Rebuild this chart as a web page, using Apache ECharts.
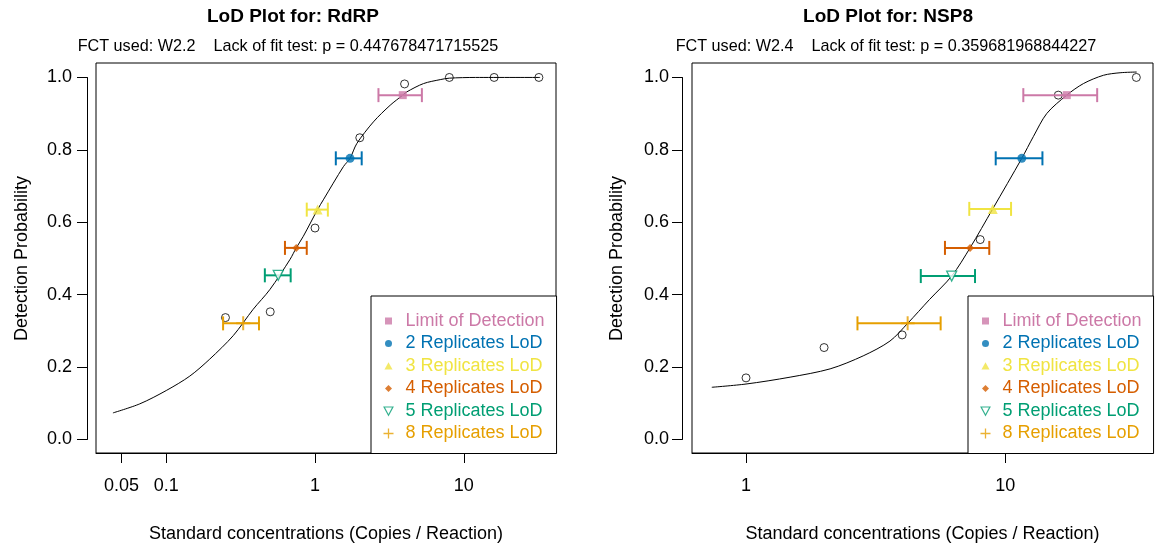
<!DOCTYPE html>
<html>
<head>
<meta charset="utf-8">
<script src="https://cdn.jsdelivr.net/npm/echarts@6/dist/echarts.min.js"></script>
<style>html,body{margin:0;padding:0;background:#fff;}#c{width:1166px;height:548px;}</style>
</head>
<body>
<div id="c"></div>
<script>
// ---------- data ----------
const lodNames = ['Limit of Detection','2 Replicates LoD','3 Replicates LoD','4 Replicates LoD','5 Replicates LoD','8 Replicates LoD'];
const xTicksLeft = [0.05, 0.1, 1, 10];
const xTicksRight = [1, 10];
const yTicks = [0, 0.2, 0.4, 0.6, 0.8, 1.0];

// RdRP
const rdrpConc = [0.25, 0.5, 1, 2, 4, 8, 16, 32];
const rdrpProb = [0.335, 0.351, 0.583, 0.833, 0.982, 1, 1, 1];
const rdrpCurveX = [0.0438, 0.0663, 0.100, 0.144, 0.196, 0.282, 0.384, 0.498, 0.679, 0.748, 0.834, 1.04, 1.137, 1.552, 1.72, 1.91, 2.47, 3.20, 3.89, 4.14, 5.36, 6.95, 8, 12, 32.6];
const rdrpCurveY = [0.071, 0.096, 0.133, 0.173, 0.220, 0.285, 0.358, 0.413, 0.496, 0.528, 0.560, 0.634, 0.661, 0.753, 0.776, 0.817, 0.877, 0.923, 0.951, 0.960, 0.983, 0.994, 0.998, 1.0, 1.0];
const rdrpLodX = [3.89, 1.72, 1.04, 0.748, 0.566, 0.329];
const rdrpLodY = [0.951, 0.776, 0.634, 0.528, 0.452, 0.319];
const rdrpLodLow = [2.67, 1.38, 0.88, 0.628, 0.46, 0.241];
const rdrpLodHigh = [5.23, 2.06, 1.22, 0.88, 0.686, 0.42];

// NSP8
const nsp8Conc = [1, 2, 4, 8, 16, 32];
const nsp8Prob = [0.168, 0.252, 0.287, 0.551, 0.951, 1.0];
const nsp8CurveX = [0.738, 1, 1.479, 2.11, 2.83, 3.59, 4.20, 5.1, 6.21, 7.31, 8.94, 11.57, 12.82, 14.44, 17.25, 20, 23.9, 27.7, 32.1];
const nsp8CurveY = [0.142, 0.151, 0.170, 0.193, 0.229, 0.27, 0.319, 0.385, 0.450, 0.528, 0.636, 0.776, 0.836, 0.900, 0.951, 0.983, 1.006, 1.013, 1.015];
const nsp8LodX = [17.25, 11.57, 8.94, 7.31, 6.21, 4.20];
const nsp8LodY = [0.951, 0.776, 0.636, 0.528, 0.450, 0.319];
const nsp8LodLow = [11.73, 9.18, 7.26, 5.85, 4.72, 2.69];
const nsp8LodHigh = [22.6, 13.9, 10.52, 8.67, 7.64, 5.63];

// ---------- styles ----------
const FONT = "'Liberation Sans', Arial, Helvetica, sans-serif";
const COLORS = ['#CC79A7', '#0072B2', '#F0E442', '#D55E00', '#009E73', '#E69F00'];
const DOWN_TRI = 'path://M0,0L10,0L5,9Z';
const PLUS = 'path://M0,5L10,5M5,0L5,10';
const SYMBOLS = ['rect', 'circle', 'triangle', 'diamond', DOWN_TRI, PLUS];
const SIZES = [8, 9, 10, 8, 10, 14];
// legend icons: shapes inside a 10x10 box (the leading moves fix the box)
const LEGEND_ICONS = [
  'path://M0,0M10,10M1.5,1.5L8.5,1.5L8.5,8.5L1.5,8.5Z',
  'path://M0,0M10,10M1.5,5a3.5,3.5 0 1,0 7,0a3.5,3.5 0 1,0 -7,0Z',
  'path://M0,0M10,10M5,1.2L9,8.4L1,8.4Z',
  'path://M0,0M10,10M5,1.5L8.5,5L5,8.5L1.5,5Z',
  'path://M0,0M10,10M0.6,1L9.4,1L5,9.2Z',
  'path://M0,5L10,5M5,0L5,10'
];
function markerStyle(i) {
  if (i === 4) return {color: '#fff', borderColor: COLORS[i], borderWidth: 1.3};
  if (i === 5) return {color: 'none', borderColor: COLORS[i], borderWidth: 2};
  return {color: COLORS[i]};
}
function legendStyle(i) {
  if (i === 4) return {color: '#fff', borderColor: COLORS[i], borderWidth: 1.2};
  if (i === 5) return {color: 'none', borderColor: COLORS[i], borderWidth: 1.3};
  return {color: COLORS[i], borderWidth: 0};
}

const chart = echarts.init(document.getElementById('c'), null, {renderer: 'canvas'});

function xAxisFor(grid, min, max, ticks) {
  return {
    type: 'log', logBase: 10, gridIndex: grid, min: min, max: max,
    axisLine: {show: true, onZero: false, lineStyle: {color: '#000', width: 1}},
    axisTick: {show: true, length: 10, inside: false, customValues: ticks, lineStyle: {color: '#000'}},
    axisLabel: {show: true, customValues: ticks, color: '#000', fontSize: 18, fontFamily: FONT, margin: 24,
      formatter: v => String(+Number(v).toPrecision(6))},
    minorTick: {show: false}, splitLine: {show: false},
    name: 'Standard concentrations (Copies / Reaction)', nameLocation: 'middle', nameGap: 72,
    nameTextStyle: {color: '#000', fontSize: 18, fontFamily: FONT}
  };
}
function yDecor(grid, margin) {
  return {
    type: 'value', gridIndex: grid, min: 0, max: 1, interval: 0.2,
    axisLine: {show: true, onZero: false, lineStyle: {color: '#000', width: 1}},
    axisTick: {show: true, length: 10, lineStyle: {color: '#000'}},
    axisLabel: {color: '#000', fontSize: 18, fontFamily: FONT, margin: margin, formatter: v => v.toFixed(1)},
    splitLine: {show: false},
    name: 'Detection Probability', nameLocation: 'middle', nameGap: 56, nameRotate: 90,
    nameTextStyle: {color: '#000', fontSize: 18, fontFamily: FONT}
  };
}

function plotSeries(g, conc, prob, cx, cy, lx, ly, llo, lhi) {
  const s = [];
  s.push({type: 'line', xAxisIndex: g, yAxisIndex: g, data: cx.map((x, i) => [x, cy[i]]),
    smooth: 0.3, showSymbol: false, symbol: 'none', lineStyle: {color: '#000', width: 1}, silent: true, z: 2});
  s.push({type: 'scatter', xAxisIndex: g, yAxisIndex: g, data: conc.map((x, i) => [x, prob[i]]),
    symbol: 'circle', symbolSize: 8, itemStyle: {color: 'rgba(0,0,0,0)', borderColor: '#000', borderWidth: 1}, z: 3});
  s.push({type: 'custom', xAxisIndex: g, yAxisIndex: g, z: 4,
    data: llo.map((lo, i) => [lo, lhi[i], ly[i]]),
    encode: {x: [0, 1], y: 2},
    renderItem: function (params, api) {
      const a = api.coord([api.value(0), api.value(2)]);
      const b = api.coord([api.value(1), api.value(2)]);
      const c = COLORS[params.dataIndex];
      const h = 7;
      const st = {stroke: c, lineWidth: 2};
      return {type: 'group', children: [
        {type: 'line', shape: {x1: a[0], y1: a[1], x2: b[0], y2: b[1]}, style: st},
        {type: 'line', shape: {x1: a[0], y1: a[1] - h, x2: a[0], y2: a[1] + h}, style: st},
        {type: 'line', shape: {x1: b[0], y1: b[1] - h, x2: b[0], y2: b[1] + h}, style: st}
      ]};
    }});
  lodNames.forEach((n, i) => {
    s.push({type: 'scatter', name: n, xAxisIndex: g, yAxisIndex: g, z: 5,
      data: [[lx[i], ly[i]]], symbol: SYMBOLS[i], symbolSize: SIZES[i], itemStyle: markerStyle(i)});
  });
  return s;
}

function legendFor(left) {
  return {
    orient: 'vertical', left: left, top: 296, padding: [15, 12, 10, 10], itemGap: 2.5,
    itemWidth: 24, itemHeight: 10, symbolKeepAspect: true,
    borderColor: '#000', borderWidth: 1, backgroundColor: '#fff',
    borderRadius: 0, selectedMode: false, z: 10,
    textStyle: {fontSize: 18, fontFamily: FONT, lineHeight: 20},
    data: lodNames.map((n, i) => ({name: n, icon: LEGEND_ICONS[i], itemStyle: legendStyle(i), textStyle: {color: COLORS[i]}}))
  };
}

const option = {
  animation: false,
  backgroundColor: '#fff',
  textStyle: {fontFamily: FONT},
  grid: [
    {left: 96, top: 63, width: 460, height: 391, show: true, borderColor: '#000', borderWidth: 1, backgroundColor: 'transparent'},
    {left: 692, top: 63, width: 461, height: 391, show: true, borderColor: '#000', borderWidth: 1, backgroundColor: 'transparent'},
    {left: 87, top: 77.5, width: 1, height: 362, show: false},
    {left: 682, top: 77.5, width: 1, height: 362, show: false}
  ],
  xAxis: [
    xAxisFor(0, 0.0337, 41.7, xTicksLeft),
    xAxisFor(1, 0.619, 37.1, xTicksRight),
    {type: 'value', gridIndex: 2, show: false},
    {type: 'value', gridIndex: 3, show: false}
  ],
  yAxis: [
    {type: 'value', gridIndex: 0, min: -0.04, max: 1.04, show: false, splitLine: {show: false}},
    {type: 'value', gridIndex: 1, min: -0.04, max: 1.04, show: false, splitLine: {show: false}},
    yDecor(2, 15),
    yDecor(3, 13)
  ],
  legend: [legendFor(371), legendFor(968)],
  graphic: [
    {type: 'text', x: 293, y: 17, style: {text: 'LoD Plot for: RdRP', fontSize: 19, fontWeight: 'bold', fontFamily: FONT, fill: '#000', align: 'center', verticalAlign: 'middle'}},
    {type: 'text', x: 288, y: 47, style: {text: 'FCT used: W2.2    Lack of fit test: p = 0.447678471715525', fontSize: 16.2, fontFamily: FONT, fill: '#000', align: 'center', verticalAlign: 'middle'}},
    {type: 'text', x: 888, y: 17, style: {text: 'LoD Plot for: NSP8', fontSize: 19, fontWeight: 'bold', fontFamily: FONT, fill: '#000', align: 'center', verticalAlign: 'middle'}},
    {type: 'text', x: 886, y: 47, style: {text: 'FCT used: W2.4    Lack of fit test: p = 0.359681968844227', fontSize: 16.2, fontFamily: FONT, fill: '#000', align: 'center', verticalAlign: 'middle'}}
  ],
  series: [].concat(
    plotSeries(0, rdrpConc, rdrpProb, rdrpCurveX, rdrpCurveY, rdrpLodX, rdrpLodY, rdrpLodLow, rdrpLodHigh),
    plotSeries(1, nsp8Conc, nsp8Prob, nsp8CurveX, nsp8CurveY, nsp8LodX, nsp8LodY, nsp8LodLow, nsp8LodHigh)
  )
};
chart.setOption(option);
</script>
</body>
</html>
